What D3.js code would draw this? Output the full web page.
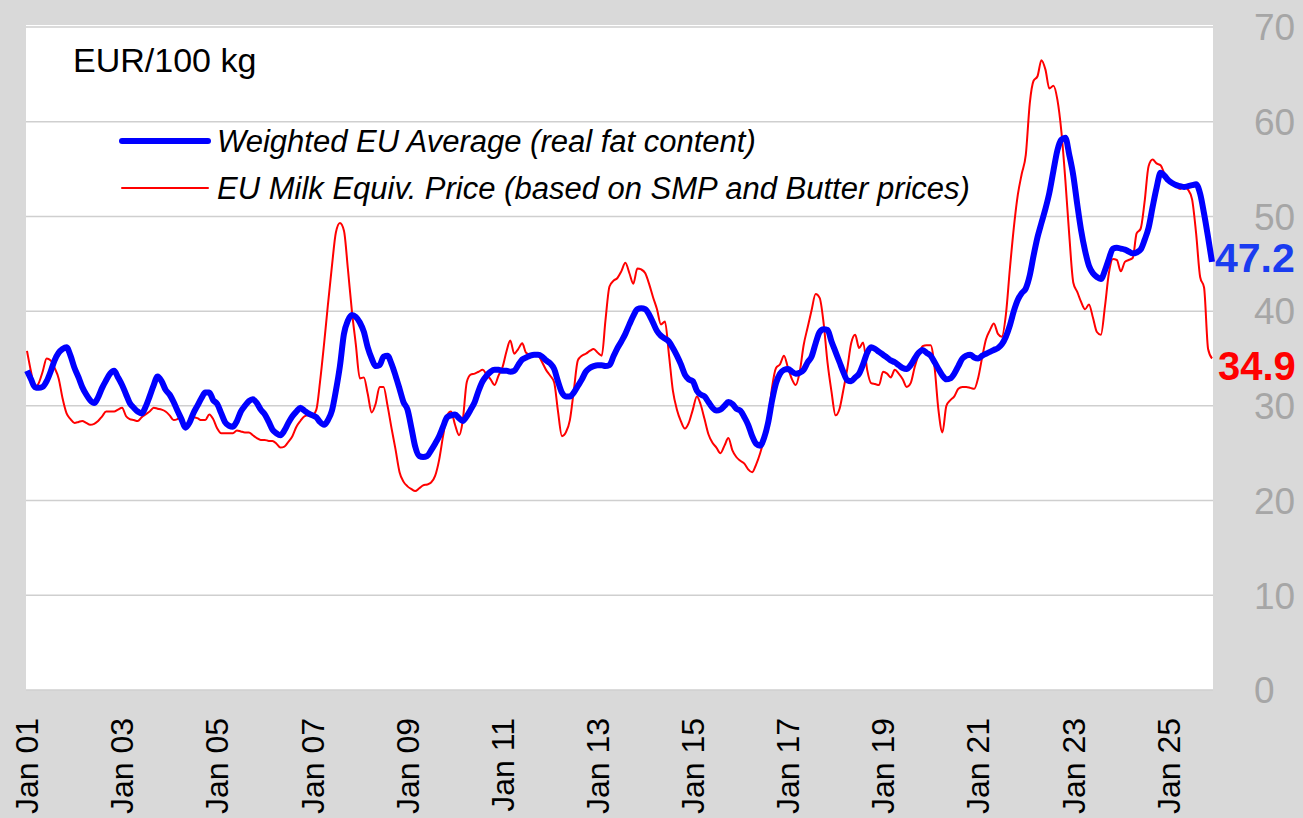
<!DOCTYPE html>
<meta charset="UTF-8">
<script src="https://d3js.org/d3.v7.min.js"></script>
<style>
  body { margin: 0; background: #d9d9d9; }
  text { font-family: "Liberation Sans", Arial, sans-serif; }
</style>
<svg id="chart" width="1303" height="818"></svg>
<script>

// monthly data, Jan 2001 .. Dec 2025
var startMonth = new Date(2001, 0, 1);

var weightedAvg = [
  33.7,32.8,32.0,31.9,32.0,32.6,33.6,34.8,35.6,36.0,36.2,35.3,
  34.0,33.0,32.0,31.2,30.6,30.3,30.9,31.9,32.7,33.4,33.7,33.0,
  32.2,31.2,30.3,29.8,29.4,29.2,29.9,31.0,32.2,33.1,32.6,31.7,
  31.2,30.4,29.5,28.6,27.7,28.2,29.2,30.0,30.8,31.4,31.4,30.6,
  30.2,29.2,28.3,27.9,27.8,28.4,29.4,30.0,30.5,30.7,30.3,29.6,
  29.1,28.3,27.5,27.1,26.9,27.4,28.2,28.9,29.4,29.8,29.5,29.2,
  29.0,28.8,28.3,28.0,28.5,29.5,31.6,34.2,37.6,39.0,39.6,39.4,
  38.8,37.8,36.2,35.0,34.2,34.3,35.2,35.3,34.4,33.2,31.8,30.4,
  29.6,27.6,25.7,24.7,24.6,24.7,25.3,26.0,26.8,27.8,28.8,29.0,
  29.1,28.7,28.4,28.9,29.6,30.4,31.6,32.6,33.2,33.6,33.8,33.8,
  33.7,33.7,33.6,33.7,34.3,34.9,35.1,35.3,35.4,35.4,35.2,34.8,
  34.5,33.9,32.6,31.4,31.0,31.0,31.4,32.1,32.8,33.6,34.0,34.2,
  34.3,34.3,34.2,34.3,35.2,36.1,36.8,37.6,38.6,39.5,40.2,40.3,
  40.2,39.6,38.8,37.9,37.4,37.1,36.8,36.1,35.3,34.4,33.3,32.8,
  32.6,31.6,31.2,31.0,30.4,29.8,29.5,29.6,30.0,30.4,30.2,29.7,
  29.5,28.8,28.0,26.8,26.0,25.8,26.6,28.2,30.6,32.4,33.4,33.8,
  33.9,33.6,33.4,33.5,33.8,34.6,35.2,36.6,37.8,38.1,38.0,36.8,
  35.7,34.6,33.6,32.7,32.6,33.0,33.4,34.4,35.6,36.2,36.0,35.7,
  35.4,35.1,34.8,34.6,34.3,34.0,33.9,34.3,35.0,35.6,35.9,35.6,
  35.3,34.6,33.9,33.2,32.8,32.9,33.4,34.2,35.0,35.3,35.4,35.1,
  35.0,35.3,35.5,35.7,35.9,36.1,36.5,37.3,38.5,40.0,41.2,41.9,
  42.4,43.8,45.8,47.8,49.3,50.8,52.5,54.8,57.0,58.1,58.3,56.5,
  54.3,51.2,48.6,46.4,44.8,44.0,43.6,43.4,44.3,45.5,46.6,46.7,
  46.6,46.5,46.3,46.1,46.2,46.5,47.5,48.8,51.0,53.0,54.6,54.3,
  53.8,53.5,53.3,53.2,53.1,53.2,53.3,53.4,52.4,50.3,47.8,45.2
];

var milkEquiv = [
  35.8,33.6,31.9,32.4,33.6,35.0,34.8,34.0,32.9,30.8,29.2,28.6,
  28.2,28.3,28.4,28.2,28.0,28.1,28.4,28.9,29.4,29.4,29.4,29.6,
  29.8,28.9,28.6,28.5,28.4,28.8,29.1,29.4,29.8,29.7,29.6,29.4,
  29.0,28.5,28.6,28.9,27.8,28.4,28.8,28.7,28.5,28.5,29.1,28.6,
  27.6,27.1,27.1,27.1,27.1,27.4,27.3,27.2,27.2,26.9,26.6,26.4,
  26.4,26.3,26.3,26.0,25.6,25.7,26.2,26.8,27.8,28.4,28.9,29.0,
  29.0,29.6,32.5,36.5,40.7,44.8,48.3,49.3,48.5,44.5,40.0,36.5,
  32.9,33.0,31.3,29.3,30.2,32.0,32.0,30.0,27.6,25.4,23.0,22.0,
  21.5,21.2,21.0,21.3,21.6,21.7,21.9,22.6,24.3,26.8,29.0,29.4,
  28.0,26.9,28.4,32.5,33.3,33.4,33.6,33.8,33.3,32.8,32.2,33.2,
  34.1,35.8,36.9,35.5,36.0,36.6,35.6,35.4,35.4,35.3,34.6,33.8,
  33.2,32.5,29.5,26.8,27.2,28.5,31.6,34.8,35.3,35.5,35.8,36.0,
  35.6,35.3,39.0,42.6,43.2,43.5,44.2,45.1,44.0,42.9,44.5,44.4,
  44.0,42.8,41.5,40.2,38.6,38.9,35.5,31.6,29.6,28.4,27.6,28.2,
  29.6,31.0,30.2,28.6,27.0,26.1,25.6,25.0,25.8,26.6,25.3,24.6,
  24.2,23.9,23.3,23.0,23.8,25.0,26.5,28.4,32.0,34.0,34.4,35.3,
  34.0,32.8,32.2,33.6,36.4,38.3,40.1,41.8,41.4,38.8,34.5,31.5,
  29.0,29.7,31.6,33.9,36.6,37.5,36.1,36.7,33.8,32.4,32.3,32.2,
  33.6,33.4,33.0,33.8,33.4,32.8,32.0,32.4,34.1,35.4,36.3,36.4,
  36.4,34.0,29.6,27.2,30.0,30.6,31.0,31.8,32.0,32.0,31.9,31.8,
  33.0,35.2,37.0,38.0,38.7,37.6,37.3,39.6,44.5,48.8,52.3,54.5,
  56.5,62.0,64.3,64.8,66.5,65.5,63.5,63.8,62.3,59.0,53.8,48.0,
  43.0,42.0,41.0,40.2,40.7,39.3,37.8,37.5,40.5,44.0,45.5,45.4,
  44.2,45.2,45.4,45.6,48.2,48.7,51.5,55.3,56.0,55.6,55.4,54.5,
  53.7,53.6,53.2,52.9,53.1,52.8,51.8,48.2,43.6,42.5,36.0,35.0
];

var seriesNames = ["Weighted EU Average (real fat content)",
                   "EU Milk Equiv. Price (based on SMP and Butter prices)"];
var lastLabels = ["47.2", "34.9"];
var yTicks = [0, 10, 20, 30, 40, 50, 60, 70];
var xTickLabels = ["Jan 01","Jan 03","Jan 05","Jan 07","Jan 09","Jan 11","Jan 13",
                   "Jan 15","Jan 17","Jan 19","Jan 21","Jan 23","Jan 25"];

var svg = d3.select("#chart"),
    width = +svg.attr("width"),
    height = +svg.attr("height");

var plot = { left: 26, right: 1213, top: 25, bottom: 690 };

var dates = weightedAvg.map(function(d, i) { return d3.timeMonth.offset(startMonth, i); });

var x = d3.scaleTime()
  .domain([dates[0], dates[dates.length - 1]])
  .range([27, 1212]);

var y = d3.scaleLinear()
  .domain([0, 70])
  .range([plot.bottom, 27]);

// background
svg.append("rect")
  .attr("width", width).attr("height", height)
  .attr("fill", "#d9d9d9");

svg.append("rect")
  .attr("x", plot.left).attr("y", plot.top)
  .attr("width", plot.right - plot.left)
  .attr("height", plot.bottom - plot.top)
  .attr("fill", "#ffffff");

// gridlines
svg.append("g")
  .selectAll("line")
  .data(yTicks)
  .enter().append("line")
    .attr("x1", plot.left).attr("x2", plot.right)
    .attr("y1", function(d) { return y(d); })
    .attr("y2", function(d) { return y(d); })
    .attr("stroke", "#cfcfcf")
    .attr("stroke-width", 1.5);

// right axis labels
svg.append("g")
  .selectAll("text")
  .data(yTicks)
  .enter().append("text")
    .attr("x", 1254)
    .attr("y", function(d) { return y(d); })
    .attr("dy", "0.36em")
    .attr("fill", "#a6a6a6")
    .style("font-size", "37px")
    .text(function(d) { return d; });

// bottom labels
var tickDates = xTickLabels.map(function(d, i) { return new Date(2001 + 2 * i, 0, 1); });
svg.append("g")
  .selectAll("text")
  .data(tickDates)
  .enter().append("text")
    .attr("transform", function(d) { return "translate(" + x(d) + ",718) rotate(-90)"; })
    .attr("text-anchor", "end")
    .attr("dy", "0.35em")
    .attr("fill", "#000")
    .style("font-size", "32px")
    .text(function(d, i) { return xTickLabels[i]; });

// lines
var line = d3.line()
  .x(function(d, i) { return x(dates[i]); })
  .y(function(d) { return y(d); })
  .curve(d3.curveMonotoneX);

svg.append("path")
  .datum(milkEquiv)
  .attr("fill", "none")
  .attr("stroke", "#ff0000")
  .attr("stroke-width", 2)
  .attr("d", line);

svg.append("path")
  .datum(weightedAvg)
  .attr("fill", "none")
  .attr("stroke", "#0000ff")
  .attr("stroke-width", 6)
  .attr("stroke-linejoin", "round")
  .attr("d", line);

// end labels
var lastDate = dates[dates.length - 1];
svg.append("text")
  .attr("x", x(lastDate) + 3)
  .attr("y", y(weightedAvg[weightedAvg.length - 1]) - 5)
  .attr("dy", "0.36em")
  .attr("fill", "#1a3cf0")
  .style("font-size", "41px")
  .style("font-weight", "bold")
  .text(lastLabels[0]);

svg.append("text")
  .attr("x", x(lastDate) + 6)
  .attr("y", y(milkEquiv[milkEquiv.length - 1]) + 7)
  .attr("dy", "0.36em")
  .attr("fill", "#ff0000")
  .style("font-size", "40px")
  .style("font-weight", "bold")
  .text(lastLabels[1]);

// unit label
svg.append("text")
  .attr("x", 73).attr("y", 72)
  .style("font-size", "34px")
  .attr("fill", "#000")
  .text("EUR/100 kg");

// legend
var legend = svg.append("g");
var legendItems = [
  { name: seriesNames[0], color: "#0000ff", w: 6, y: 141 },
  { name: seriesNames[1], color: "#ff0000", w: 2, y: 188 }
];
legend.selectAll("line")
  .data(legendItems)
  .enter().append("line")
    .attr("x1", 122).attr("x2", 208)
    .attr("y1", function(d) { return d.y; })
    .attr("y2", function(d) { return d.y; })
    .attr("stroke", function(d) { return d.color; })
    .attr("stroke-width", function(d) { return d.w; })
    .attr("stroke-linecap", "round");
legend.selectAll("text")
  .data(legendItems)
  .enter().append("text")
    .attr("x", 217)
    .attr("y", function(d) { return d.y; })
    .attr("dy", "0.36em")
    .style("font-size", "31px")
    .style("font-style", "italic")
    .attr("fill", "#000")
    .text(function(d) { return d.name; });

</script>
